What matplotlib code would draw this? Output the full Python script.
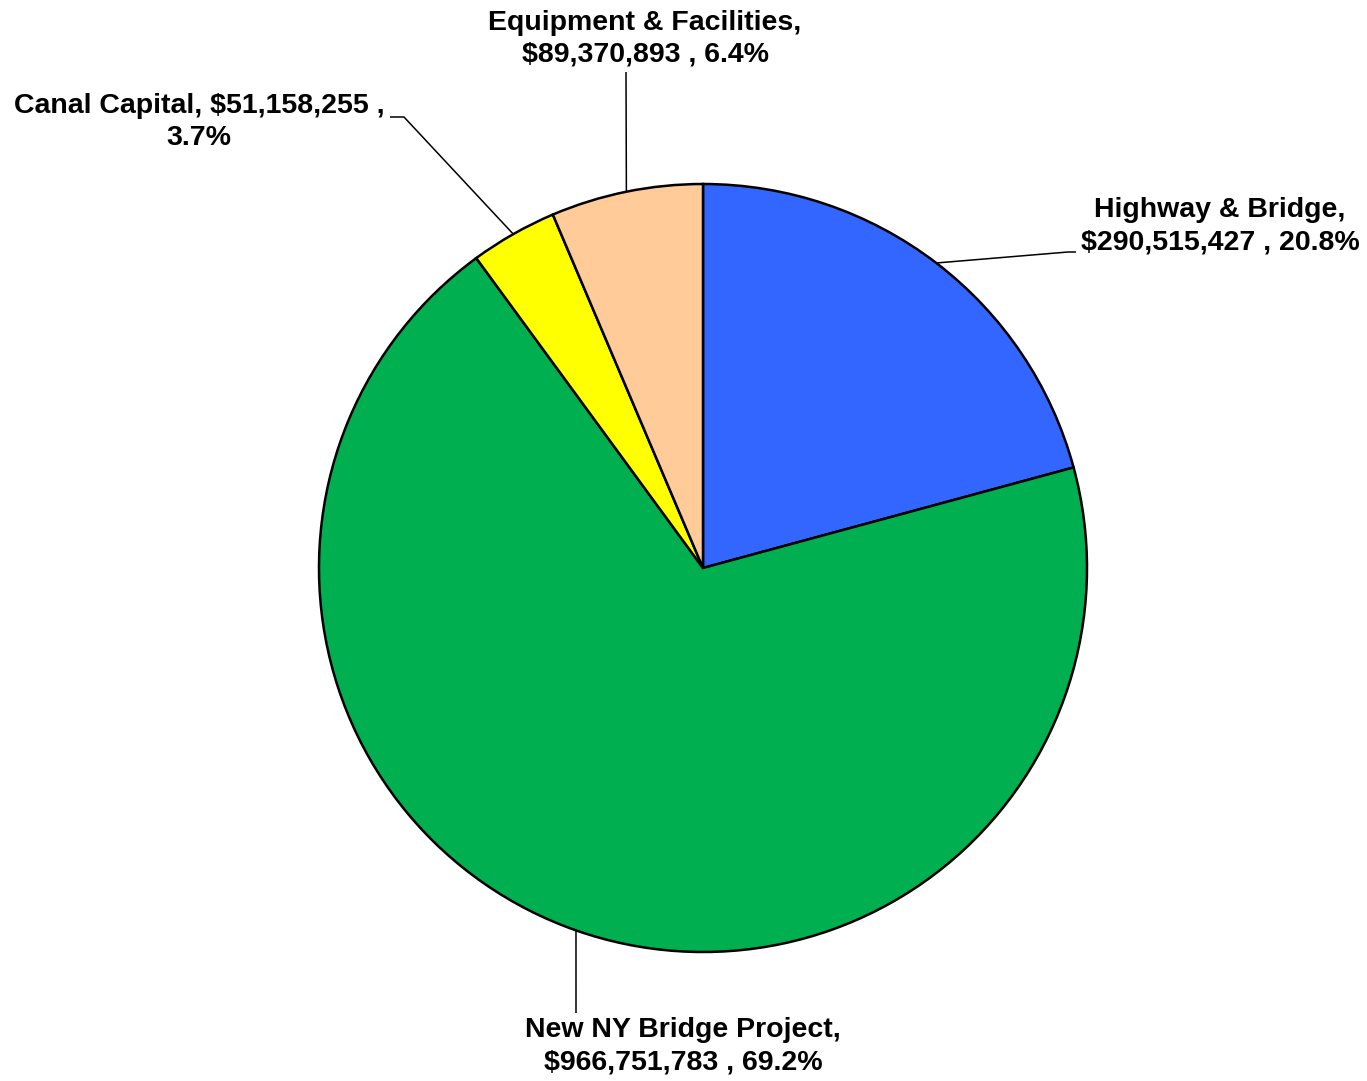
import numpy as np
import matplotlib
matplotlib.use("Agg")
import matplotlib.pyplot as plt

categories = ["Highway & Bridge", "New NY Bridge Project", "Canal Capital", "Equipment & Facilities"]
amounts = [290515427, 966751783, 51158255, 89370893]
colors = ["#3366FF", "#00B050", "#FFFF00", "#FFCC99"]

W, H = 1367, 1081
fig = plt.figure(figsize=(W / 100, H / 100), dpi=100)
ax = fig.add_axes([0, 0, 1, 1])

cx, cy, r = 703, H - 568, 384
wedges, _ = ax.pie(amounts, colors=colors, startangle=90, counterclock=False,
                   center=(cx, cy), radius=r, frame=True,
                   wedgeprops=dict(edgecolor="black", linewidth=1.8))
ax.set_xlim(0, W)
ax.set_ylim(0, H)
ax.set_aspect("auto")
ax.axis("off")

total = sum(amounts)
pcts = [a / total * 100 for a in amounts]

def label_text(i):
    return f"${amounts[i]:,} , {pcts[i]:.1f}%"

texts = [
    f"{categories[0]},\n{label_text(0)}",
    f"{categories[1]},\n{label_text(1)}",
    f"{categories[2]}, ${amounts[2]:,} ,\n{pcts[2]:.1f}%",
    f"{categories[3]},\n{label_text(3)}",
]

# label anchor (center of text block) and leader-line elbow per slice
label_pos = [(1220, 226), (683, 1046), (199, 122), (645, 39)]
elbows = [[(1068, 252), (1076, 252)],
          [(576, 1013)],
          [(404, 117), (390, 117)],
          [(626, 72)]]

font = dict(family="Liberation Sans", weight="bold", size=20.5)
for i, w in enumerate(wedges):
    mid = np.deg2rad((w.theta1 + w.theta2) / 2)
    x0 = cx + r * np.cos(mid)
    y0 = cy + r * np.sin(mid)
    pts = [(x0, y0)] + [(x, H - y) for x, y in elbows[i]]
    xs, ys = zip(*pts)
    ax.plot(xs, ys, color="black", lw=1.1, solid_capstyle="butt")
    lx, ly = label_pos[i]
    ax.text(lx, H - ly, texts[i], ha="center", va="center", multialignment="center",
            linespacing=1.3, color="black", **font)

fig.savefig("out.png", dpi=100, facecolor="white")
